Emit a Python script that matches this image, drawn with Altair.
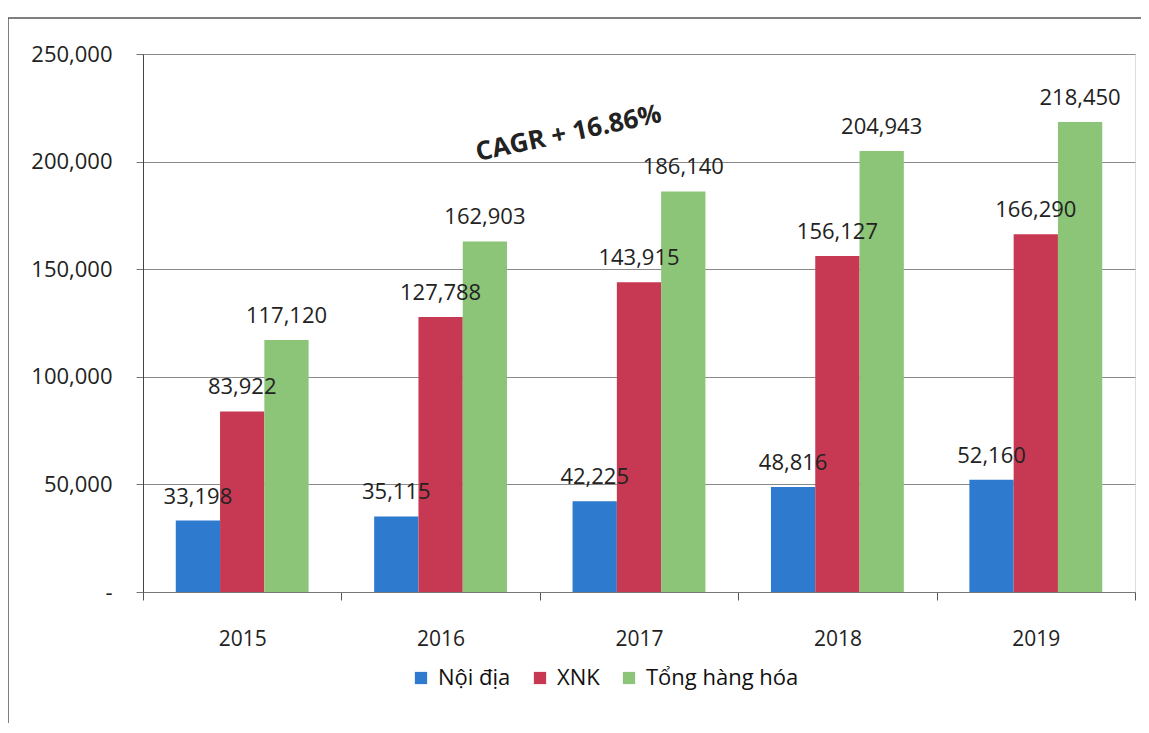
import altair as alt
import pandas as pd

years = ["2015", "2016", "2017", "2018", "2019"]
series = ["Nội địa", "XNK", "Tổng hàng hóa"]
noi_dia = [33198, 35115, 42225, 48816, 52160]
xnk = [83922, 127788, 143915, 156127, 166290]
tong = [117120, 162903, 186140, 204943, 218450]
colors = ["#2E7ACE", "#C73952", "#8CC478"]
annotation = "CAGR + 16.86%"
annotation_year = "2017"
annotation_value = 220000

rows = []
for i, y in enumerate(years):
    for s, vals in zip(series, [noi_dia, xnk, tong]):
        rows.append({"year": y, "series": s, "value": vals[i]})
df = pd.DataFrame(rows)

FONT = "Open Sans"

x_enc = alt.X("year:N", sort=years, title=None,
              scale=alt.Scale(paddingInner=0, paddingOuter=0),
              axis=alt.Axis(labelAngle=0, labelFontSize=21, labelFont=FONT,
                            labelColor="#222", tickBand="extent", tickSize=8,
                            tickColor="#555", domainColor="#777",
                            labelPadding=28, grid=False))
y_enc = alt.Y("value:Q", title=None,
              scale=alt.Scale(domain=[0, 250000], nice=False),
              axis=alt.Axis(values=[0, 50000, 100000, 150000, 200000, 250000],
                            labelExpr="datum.value == 0 ? '-' : format(datum.value, ',')",
                            labelFontSize=22, labelFont=FONT, labelColor="#222",
                            tickSize=7, tickColor="#777", domainColor="#444",
                            labelPadding=24, gridColor="#8a8a8a", gridWidth=1))
xo = alt.XOffset("series:N", sort=series,
                 scale=alt.Scale(paddingOuter=0.74, paddingInner=0))
color = alt.Color("series:N", sort=series,
                  scale=alt.Scale(domain=series, range=colors),
                  legend=alt.Legend(title=None, orient="none", direction="horizontal",
                                    legendX=267, legendY=613,
                                    symbolType="square", symbolSize=150,
                                    symbolStrokeWidth=0, labelFont=FONT,
                                    labelFontSize=22, labelColor="#111",
                                    columnPadding=18, symbolOffset=0,
                                    labelOffset=6))

base = alt.Chart(df)
bars = base.mark_bar().encode(x=x_enc, y=y_enc, xOffset=xo, color=color)
labels = base.mark_text(dy=-17, baseline="alphabetic", fontSize=22, font=FONT,
                        color="#222").encode(
    x=alt.X("year:N", sort=years), y="value:Q", xOffset=xo,
    text=alt.Text("value:Q", format=","))

ann_df = pd.DataFrame({"year": [annotation_year], "value": [annotation_value],
                       "label": [annotation]})
ann = alt.Chart(ann_df).mark_text(angle=348, dx=-72, fontSize=26, font=FONT,
                                  fontWeight="bold",
                                  color="#222", align="center",
                                  baseline="middle").encode(
    x=alt.X("year:N", sort=years), y="value:Q", text="label:N")

frame_df = pd.DataFrame({"k": [0]})
frame_left = alt.Chart(frame_df).mark_rule(color="#555", strokeWidth=1.5, clip=False).encode(
    x=alt.value(-135), y=alt.value(-36), y2=alt.value(700))
frame_top = alt.Chart(frame_df).mark_rule(color="#555", strokeWidth=1.5, clip=False).encode(
    x=alt.value(-135), x2=alt.value(1020), y=alt.value(-36))

chart = alt.layer(bars, labels, ann, frame_left, frame_top).properties(
    width=992, height=538,
    autosize=alt.AutoSizeParams(type="none"),
    padding={"left": 135, "top": 46, "right": 6, "bottom": 131},
).configure_view(stroke=None).configure(background="white")

chart.save("out.html", embed_options={"renderer": "svg", "actions": False})
